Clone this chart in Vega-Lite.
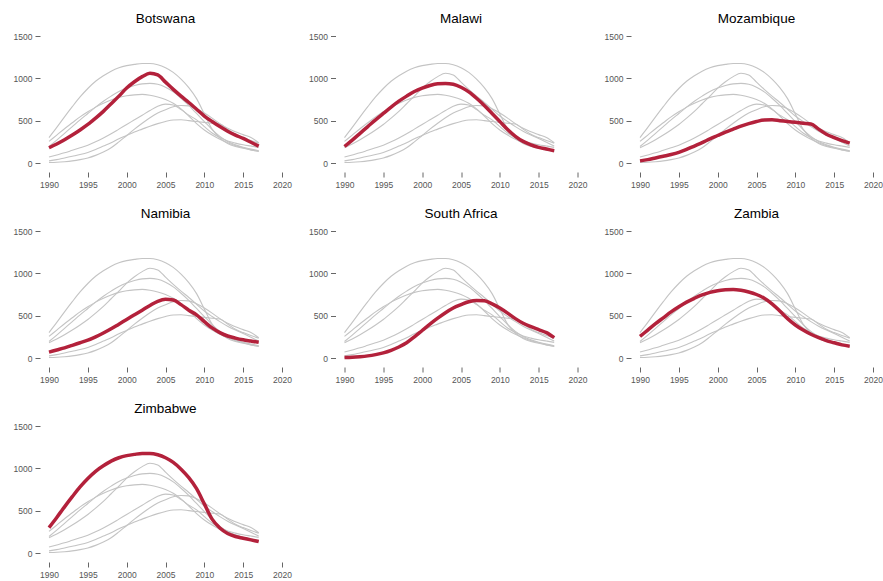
{
  "$schema": "https://vega.github.io/schema/vega-lite/v6.json",
  "padding": {"left": 13, "top": 11, "right": 5, "bottom": 5},
  "background": "white",
  "datasets": {
    "prevalence": [
      {"country": "Botswana", "year": 1990, "value": 180},
      {"country": "Botswana", "year": 1991, "value": 225},
      {"country": "Botswana", "year": 1992, "value": 275},
      {"country": "Botswana", "year": 1993, "value": 330},
      {"country": "Botswana", "year": 1994, "value": 390},
      {"country": "Botswana", "year": 1995, "value": 455},
      {"country": "Botswana", "year": 1996, "value": 530},
      {"country": "Botswana", "year": 1997, "value": 610},
      {"country": "Botswana", "year": 1998, "value": 700},
      {"country": "Botswana", "year": 1999, "value": 790},
      {"country": "Botswana", "year": 2000, "value": 885},
      {"country": "Botswana", "year": 2001, "value": 960},
      {"country": "Botswana", "year": 2002, "value": 1020},
      {"country": "Botswana", "year": 2003, "value": 1060},
      {"country": "Botswana", "year": 2004, "value": 1040},
      {"country": "Botswana", "year": 2005, "value": 955},
      {"country": "Botswana", "year": 2006, "value": 870},
      {"country": "Botswana", "year": 2007, "value": 790},
      {"country": "Botswana", "year": 2008, "value": 715},
      {"country": "Botswana", "year": 2009, "value": 635},
      {"country": "Botswana", "year": 2010, "value": 555},
      {"country": "Botswana", "year": 2011, "value": 490},
      {"country": "Botswana", "year": 2012, "value": 430},
      {"country": "Botswana", "year": 2013, "value": 375},
      {"country": "Botswana", "year": 2014, "value": 330},
      {"country": "Botswana", "year": 2015, "value": 290},
      {"country": "Botswana", "year": 2016, "value": 245},
      {"country": "Botswana", "year": 2017, "value": 200},

      {"country": "Malawi", "year": 1990, "value": 195},
      {"country": "Malawi", "year": 1991, "value": 270},
      {"country": "Malawi", "year": 1992, "value": 350},
      {"country": "Malawi", "year": 1993, "value": 430},
      {"country": "Malawi", "year": 1994, "value": 510},
      {"country": "Malawi", "year": 1995, "value": 585},
      {"country": "Malawi", "year": 1996, "value": 660},
      {"country": "Malawi", "year": 1997, "value": 730},
      {"country": "Malawi", "year": 1998, "value": 790},
      {"country": "Malawi", "year": 1999, "value": 845},
      {"country": "Malawi", "year": 2000, "value": 885},
      {"country": "Malawi", "year": 2001, "value": 915},
      {"country": "Malawi", "year": 2002, "value": 935},
      {"country": "Malawi", "year": 2003, "value": 940},
      {"country": "Malawi", "year": 2004, "value": 930},
      {"country": "Malawi", "year": 2005, "value": 895},
      {"country": "Malawi", "year": 2006, "value": 840},
      {"country": "Malawi", "year": 2007, "value": 765},
      {"country": "Malawi", "year": 2008, "value": 680},
      {"country": "Malawi", "year": 2009, "value": 585},
      {"country": "Malawi", "year": 2010, "value": 490},
      {"country": "Malawi", "year": 2011, "value": 395},
      {"country": "Malawi", "year": 2012, "value": 315},
      {"country": "Malawi", "year": 2013, "value": 255},
      {"country": "Malawi", "year": 2014, "value": 215},
      {"country": "Malawi", "year": 2015, "value": 185},
      {"country": "Malawi", "year": 2016, "value": 165},
      {"country": "Malawi", "year": 2017, "value": 145},

      {"country": "Mozambique", "year": 1990, "value": 25},
      {"country": "Mozambique", "year": 1991, "value": 40},
      {"country": "Mozambique", "year": 1992, "value": 60},
      {"country": "Mozambique", "year": 1993, "value": 80},
      {"country": "Mozambique", "year": 1994, "value": 100},
      {"country": "Mozambique", "year": 1995, "value": 125},
      {"country": "Mozambique", "year": 1996, "value": 160},
      {"country": "Mozambique", "year": 1997, "value": 200},
      {"country": "Mozambique", "year": 1998, "value": 240},
      {"country": "Mozambique", "year": 1999, "value": 285},
      {"country": "Mozambique", "year": 2000, "value": 325},
      {"country": "Mozambique", "year": 2001, "value": 365},
      {"country": "Mozambique", "year": 2002, "value": 400},
      {"country": "Mozambique", "year": 2003, "value": 435},
      {"country": "Mozambique", "year": 2004, "value": 465},
      {"country": "Mozambique", "year": 2005, "value": 490},
      {"country": "Mozambique", "year": 2006, "value": 508},
      {"country": "Mozambique", "year": 2007, "value": 510},
      {"country": "Mozambique", "year": 2008, "value": 500},
      {"country": "Mozambique", "year": 2009, "value": 490},
      {"country": "Mozambique", "year": 2010, "value": 480},
      {"country": "Mozambique", "year": 2011, "value": 470},
      {"country": "Mozambique", "year": 2012, "value": 460},
      {"country": "Mozambique", "year": 2013, "value": 400},
      {"country": "Mozambique", "year": 2014, "value": 340},
      {"country": "Mozambique", "year": 2015, "value": 300},
      {"country": "Mozambique", "year": 2016, "value": 265},
      {"country": "Mozambique", "year": 2017, "value": 235},

      {"country": "Namibia", "year": 1990, "value": 70},
      {"country": "Namibia", "year": 1991, "value": 95},
      {"country": "Namibia", "year": 1992, "value": 120},
      {"country": "Namibia", "year": 1993, "value": 150},
      {"country": "Namibia", "year": 1994, "value": 180},
      {"country": "Namibia", "year": 1995, "value": 210},
      {"country": "Namibia", "year": 1996, "value": 250},
      {"country": "Namibia", "year": 1997, "value": 295},
      {"country": "Namibia", "year": 1998, "value": 345},
      {"country": "Namibia", "year": 1999, "value": 400},
      {"country": "Namibia", "year": 2000, "value": 455},
      {"country": "Namibia", "year": 2001, "value": 510},
      {"country": "Namibia", "year": 2002, "value": 565},
      {"country": "Namibia", "year": 2003, "value": 620},
      {"country": "Namibia", "year": 2004, "value": 670},
      {"country": "Namibia", "year": 2005, "value": 695},
      {"country": "Namibia", "year": 2006, "value": 685},
      {"country": "Namibia", "year": 2007, "value": 630},
      {"country": "Namibia", "year": 2008, "value": 565},
      {"country": "Namibia", "year": 2009, "value": 510},
      {"country": "Namibia", "year": 2010, "value": 430},
      {"country": "Namibia", "year": 2011, "value": 355},
      {"country": "Namibia", "year": 2012, "value": 300},
      {"country": "Namibia", "year": 2013, "value": 260},
      {"country": "Namibia", "year": 2014, "value": 235},
      {"country": "Namibia", "year": 2015, "value": 215},
      {"country": "Namibia", "year": 2016, "value": 200},
      {"country": "Namibia", "year": 2017, "value": 185},

      {"country": "South Africa", "year": 1990, "value": 5},
      {"country": "South Africa", "year": 1991, "value": 8},
      {"country": "South Africa", "year": 1992, "value": 15},
      {"country": "South Africa", "year": 1993, "value": 25},
      {"country": "South Africa", "year": 1994, "value": 40},
      {"country": "South Africa", "year": 1995, "value": 60},
      {"country": "South Africa", "year": 1996, "value": 90},
      {"country": "South Africa", "year": 1997, "value": 130},
      {"country": "South Africa", "year": 1998, "value": 180},
      {"country": "South Africa", "year": 1999, "value": 250},
      {"country": "South Africa", "year": 2000, "value": 325},
      {"country": "South Africa", "year": 2001, "value": 400},
      {"country": "South Africa", "year": 2002, "value": 470},
      {"country": "South Africa", "year": 2003, "value": 535},
      {"country": "South Africa", "year": 2004, "value": 590},
      {"country": "South Africa", "year": 2005, "value": 630},
      {"country": "South Africa", "year": 2006, "value": 665},
      {"country": "South Africa", "year": 2007, "value": 680},
      {"country": "South Africa", "year": 2008, "value": 675},
      {"country": "South Africa", "year": 2009, "value": 640},
      {"country": "South Africa", "year": 2010, "value": 590},
      {"country": "South Africa", "year": 2011, "value": 530},
      {"country": "South Africa", "year": 2012, "value": 465},
      {"country": "South Africa", "year": 2013, "value": 410},
      {"country": "South Africa", "year": 2014, "value": 370},
      {"country": "South Africa", "year": 2015, "value": 335},
      {"country": "South Africa", "year": 2016, "value": 300},
      {"country": "South Africa", "year": 2017, "value": 240},

      {"country": "Zambia", "year": 1990, "value": 255},
      {"country": "Zambia", "year": 1991, "value": 330},
      {"country": "Zambia", "year": 1992, "value": 405},
      {"country": "Zambia", "year": 1993, "value": 475},
      {"country": "Zambia", "year": 1994, "value": 545},
      {"country": "Zambia", "year": 1995, "value": 605},
      {"country": "Zambia", "year": 1996, "value": 660},
      {"country": "Zambia", "year": 1997, "value": 705},
      {"country": "Zambia", "year": 1998, "value": 745},
      {"country": "Zambia", "year": 1999, "value": 775},
      {"country": "Zambia", "year": 2000, "value": 795},
      {"country": "Zambia", "year": 2001, "value": 805},
      {"country": "Zambia", "year": 2002, "value": 810},
      {"country": "Zambia", "year": 2003, "value": 800},
      {"country": "Zambia", "year": 2004, "value": 780},
      {"country": "Zambia", "year": 2005, "value": 750},
      {"country": "Zambia", "year": 2006, "value": 705},
      {"country": "Zambia", "year": 2007, "value": 640},
      {"country": "Zambia", "year": 2008, "value": 555},
      {"country": "Zambia", "year": 2009, "value": 465},
      {"country": "Zambia", "year": 2010, "value": 390},
      {"country": "Zambia", "year": 2011, "value": 330},
      {"country": "Zambia", "year": 2012, "value": 280},
      {"country": "Zambia", "year": 2013, "value": 240},
      {"country": "Zambia", "year": 2014, "value": 205},
      {"country": "Zambia", "year": 2015, "value": 180},
      {"country": "Zambia", "year": 2016, "value": 155},
      {"country": "Zambia", "year": 2017, "value": 140},

      {"country": "Zimbabwe", "year": 1990, "value": 300},
      {"country": "Zimbabwe", "year": 1991, "value": 420},
      {"country": "Zimbabwe", "year": 1992, "value": 545},
      {"country": "Zimbabwe", "year": 1993, "value": 665},
      {"country": "Zimbabwe", "year": 1994, "value": 780},
      {"country": "Zimbabwe", "year": 1995, "value": 880},
      {"country": "Zimbabwe", "year": 1996, "value": 965},
      {"country": "Zimbabwe", "year": 1997, "value": 1030},
      {"country": "Zimbabwe", "year": 1998, "value": 1085},
      {"country": "Zimbabwe", "year": 1999, "value": 1125},
      {"country": "Zimbabwe", "year": 2000, "value": 1150},
      {"country": "Zimbabwe", "year": 2001, "value": 1165},
      {"country": "Zimbabwe", "year": 2002, "value": 1175},
      {"country": "Zimbabwe", "year": 2003, "value": 1175},
      {"country": "Zimbabwe", "year": 2004, "value": 1160},
      {"country": "Zimbabwe", "year": 2005, "value": 1125},
      {"country": "Zimbabwe", "year": 2006, "value": 1070},
      {"country": "Zimbabwe", "year": 2007, "value": 990},
      {"country": "Zimbabwe", "year": 2008, "value": 890},
      {"country": "Zimbabwe", "year": 2009, "value": 760},
      {"country": "Zimbabwe", "year": 2010, "value": 580},
      {"country": "Zimbabwe", "year": 2011, "value": 400},
      {"country": "Zimbabwe", "year": 2012, "value": 295},
      {"country": "Zimbabwe", "year": 2013, "value": 230},
      {"country": "Zimbabwe", "year": 2014, "value": 195},
      {"country": "Zimbabwe", "year": 2015, "value": 175},
      {"country": "Zimbabwe", "year": 2016, "value": 155},
      {"country": "Zimbabwe", "year": 2017, "value": 135}
    ]
  },
  "data": {"name": "prevalence"},
  "columns": 3,
  "bounds": "flush",
  "spacing": {"row": 68, "column": 62.5},
  "concat": [
    {
      "title": "Botswana",
      "width": 233, "height": 127,
      "encoding": {
        "x": {"field": "year", "type": "quantitative", "scale": {"domain": [1990, 2020]}, "axis": {"values": [1990, 1995, 2000, 2005, 2010, 2015, 2020], "format": "d"}},
        "y": {"field": "value", "type": "quantitative", "scale": {"domain": [0, 1500]}, "axis": {"values": [0, 500, 1000, 1500], "format": "d"}}
      },
      "layer": [
        {"mark": {"type": "line", "color": "#c4c4c4", "strokeWidth": 1.1, "interpolate": "monotone"}, "encoding": {"detail": {"field": "country"}}},
        {"transform": [{"filter": "datum.country === 'Botswana'"}], "mark": {"type": "line", "color": "#b3213b", "strokeWidth": 3.5, "interpolate": "monotone"}, "encoding": {}}
      ]
    },
    {
      "title": "Malawi",
      "width": 233, "height": 127,
      "encoding": {
        "x": {"field": "year", "type": "quantitative", "scale": {"domain": [1990, 2020]}, "axis": {"values": [1990, 1995, 2000, 2005, 2010, 2015, 2020], "format": "d"}},
        "y": {"field": "value", "type": "quantitative", "scale": {"domain": [0, 1500]}, "axis": {"values": [0, 500, 1000, 1500], "format": "d"}}
      },
      "layer": [
        {"mark": {"type": "line", "color": "#c4c4c4", "strokeWidth": 1.1, "interpolate": "monotone"}, "encoding": {"detail": {"field": "country"}}},
        {"transform": [{"filter": "datum.country === 'Malawi'"}], "mark": {"type": "line", "color": "#b3213b", "strokeWidth": 3.5, "interpolate": "monotone"}, "encoding": {}}
      ]
    },
    {
      "title": "Mozambique",
      "width": 233, "height": 127,
      "encoding": {
        "x": {"field": "year", "type": "quantitative", "scale": {"domain": [1990, 2020]}, "axis": {"values": [1990, 1995, 2000, 2005, 2010, 2015, 2020], "format": "d"}},
        "y": {"field": "value", "type": "quantitative", "scale": {"domain": [0, 1500]}, "axis": {"values": [0, 500, 1000, 1500], "format": "d"}}
      },
      "layer": [
        {"mark": {"type": "line", "color": "#c4c4c4", "strokeWidth": 1.1, "interpolate": "monotone"}, "encoding": {"detail": {"field": "country"}}},
        {"transform": [{"filter": "datum.country === 'Mozambique'"}], "mark": {"type": "line", "color": "#b3213b", "strokeWidth": 3.5, "interpolate": "monotone"}, "encoding": {}}
      ]
    },
    {
      "title": "Namibia",
      "width": 233, "height": 127,
      "encoding": {
        "x": {"field": "year", "type": "quantitative", "scale": {"domain": [1990, 2020]}, "axis": {"values": [1990, 1995, 2000, 2005, 2010, 2015, 2020], "format": "d"}},
        "y": {"field": "value", "type": "quantitative", "scale": {"domain": [0, 1500]}, "axis": {"values": [0, 500, 1000, 1500], "format": "d"}}
      },
      "layer": [
        {"mark": {"type": "line", "color": "#c4c4c4", "strokeWidth": 1.1, "interpolate": "monotone"}, "encoding": {"detail": {"field": "country"}}},
        {"transform": [{"filter": "datum.country === 'Namibia'"}], "mark": {"type": "line", "color": "#b3213b", "strokeWidth": 3.5, "interpolate": "monotone"}, "encoding": {}}
      ]
    },
    {
      "title": "South Africa",
      "width": 233, "height": 127,
      "encoding": {
        "x": {"field": "year", "type": "quantitative", "scale": {"domain": [1990, 2020]}, "axis": {"values": [1990, 1995, 2000, 2005, 2010, 2015, 2020], "format": "d"}},
        "y": {"field": "value", "type": "quantitative", "scale": {"domain": [0, 1500]}, "axis": {"values": [0, 500, 1000, 1500], "format": "d"}}
      },
      "layer": [
        {"mark": {"type": "line", "color": "#c4c4c4", "strokeWidth": 1.1, "interpolate": "monotone"}, "encoding": {"detail": {"field": "country"}}},
        {"transform": [{"filter": "datum.country === 'South Africa'"}], "mark": {"type": "line", "color": "#b3213b", "strokeWidth": 3.5, "interpolate": "monotone"}, "encoding": {}}
      ]
    },
    {
      "title": "Zambia",
      "width": 233, "height": 127,
      "encoding": {
        "x": {"field": "year", "type": "quantitative", "scale": {"domain": [1990, 2020]}, "axis": {"values": [1990, 1995, 2000, 2005, 2010, 2015, 2020], "format": "d"}},
        "y": {"field": "value", "type": "quantitative", "scale": {"domain": [0, 1500]}, "axis": {"values": [0, 500, 1000, 1500], "format": "d"}}
      },
      "layer": [
        {"mark": {"type": "line", "color": "#c4c4c4", "strokeWidth": 1.1, "interpolate": "monotone"}, "encoding": {"detail": {"field": "country"}}},
        {"transform": [{"filter": "datum.country === 'Zambia'"}], "mark": {"type": "line", "color": "#b3213b", "strokeWidth": 3.5, "interpolate": "monotone"}, "encoding": {}}
      ]
    },
    {
      "title": "Zimbabwe",
      "width": 233, "height": 127,
      "encoding": {
        "x": {"field": "year", "type": "quantitative", "scale": {"domain": [1990, 2020]}, "axis": {"values": [1990, 1995, 2000, 2005, 2010, 2015, 2020], "format": "d"}},
        "y": {"field": "value", "type": "quantitative", "scale": {"domain": [0, 1500]}, "axis": {"values": [0, 500, 1000, 1500], "format": "d"}}
      },
      "layer": [
        {"mark": {"type": "line", "color": "#c4c4c4", "strokeWidth": 1.1, "interpolate": "monotone"}, "encoding": {"detail": {"field": "country"}}},
        {"transform": [{"filter": "datum.country === 'Zimbabwe'"}], "mark": {"type": "line", "color": "#b3213b", "strokeWidth": 3.5, "interpolate": "monotone"}, "encoding": {}}
      ]
    }
  ],
  "config": {
    "view": {"stroke": null},
    "font": "Liberation Sans",
    "axis": {
      "domain": false,
      "grid": false,
      "ticks": true,
      "tickSize": 5,
      "tickColor": "#666666",
      "tickWidth": 1,
      "labelColor": "#555555",
      "labelFont": "Liberation Sans",
      "labelFontSize": 8.5,
      "labelPadding": 3,
      "labelFlush": false,
      "labelOverlap": false,
      "title": null,
      "offset": 9
    },
    "title": {
      "font": "Liberation Sans",
      "fontSize": 13.5,
      "fontWeight": "normal",
      "color": "#000000",
      "anchor": "middle",
      "frame": "group",
      "baseline": "alphabetic",
      "offset": 7
    }
  }
}
